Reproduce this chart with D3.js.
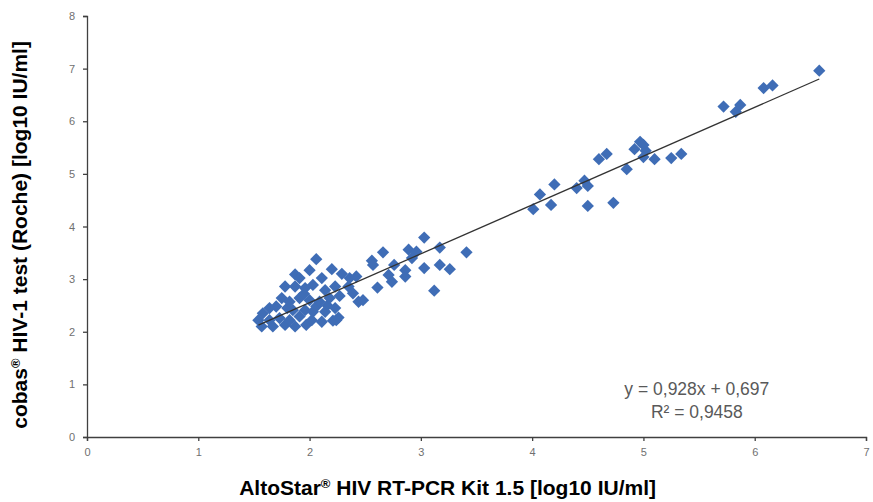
<!DOCTYPE html>
<html>
<head>
<meta charset="utf-8">
<script src="https://cdn.jsdelivr.net/npm/d3@7"></script>
<style>
  body { margin: 0; background: #fff; }
  text { font-family: "Liberation Sans", Arial, sans-serif; }
</style>
</head>
<body>
<div id="chart"></div>
<script>

// AltoStar (x) vs cobas (y), log10 IU/ml
const xVals = [
  1.54, 1.57, 1.58, 1.64, 1.64, 1.67, 1.70, 1.73, 1.75, 1.78,
  1.78, 1.80, 1.82, 1.82, 1.85, 1.87, 1.87, 1.87, 1.91, 1.91,
  1.91, 1.95, 1.96, 1.96, 1.97, 2.00, 2.00, 2.02, 2.03, 2.03,
  2.06, 2.06, 2.09, 2.11, 2.11, 2.14, 2.14, 2.16, 2.18, 2.20,
  2.21, 2.23, 2.23, 2.24, 2.26, 2.27, 2.29, 2.35, 2.36, 2.39,
  2.42, 2.44, 2.48, 2.56, 2.57, 2.61, 2.66, 2.71, 2.74, 2.76,
  2.86, 2.86, 2.89, 2.92, 2.96, 3.03, 3.03, 3.12, 3.17, 3.17,
  3.26, 3.41,
  4.01, 4.07, 4.17, 4.20, 4.40, 4.47, 4.50, 4.50, 4.60, 4.67,
  4.73, 4.85, 4.92, 4.97, 5.00, 5.02, 5.00, 5.10, 5.25, 5.34,
  5.72, 5.83, 5.87, 6.08, 6.16, 6.58
]
const yVals = [
  2.22, 2.10, 2.35, 2.45, 2.22, 2.10, 2.48, 2.26, 2.64, 2.86,
  2.13, 2.45, 2.57, 2.22, 2.41, 3.09, 2.86, 2.10, 3.02, 2.64,
  2.29, 2.72, 2.83, 2.41, 2.13, 3.17, 2.60, 2.22, 2.89, 2.38,
  3.38, 2.48, 2.57, 3.02, 2.19, 2.79, 2.38, 2.50, 2.64, 3.19,
  2.21, 2.86, 2.45, 2.22, 2.27, 2.68, 3.10, 2.86, 3.02, 2.73,
  3.05, 2.57, 2.60, 3.35, 3.27, 2.84, 3.51, 3.08, 2.95, 3.27,
  3.17, 3.05, 3.56, 3.40, 3.52, 3.79, 3.21, 2.78, 3.60, 3.27,
  3.19, 3.51,
  4.33, 4.61, 4.41, 4.80, 4.73, 4.87, 4.77, 4.39, 5.28, 5.38,
  4.45, 5.09, 5.47, 5.61, 5.55, 5.44, 5.32, 5.28, 5.30, 5.38,
  6.28, 6.18, 6.31, 6.63, 6.68, 6.96
]

const slope = 0.928, intercept = 0.697
const eqLines = ["y = 0,928x + 0,697", "R² = 0,9458"]

const xTicks = [0, 1, 2, 3, 4, 5, 6, 7]
const yTicks = [0, 1, 2, 3, 4, 5, 6, 7, 8]

const margin = {top: 16, right: 7, bottom: 65, left: 87},
    width = 873 - margin.left - margin.right,
    height = 502 - margin.top - margin.bottom;

const data = xVals.map((x, i) => ({x: x, y: yVals[i]}))

const svg = d3.select("#chart")
  .append("svg")
    .attr("width", 873)
    .attr("height", 502)
  .append("g")
    .attr("transform", `translate(${margin.left},${margin.top})`);

const x = d3.scaleLinear().domain([0, 7]).range([0, width])
const y = d3.scaleLinear().domain([0, 8]).range([height, 0])

// axes
const xAxis = svg.append("g")
  .attr("transform", `translate(0, ${height})`)
  .call(d3.axisBottom(x).tickValues(xTicks).tickFormat(d3.format("d"))
    .tickSize(4).tickSizeOuter(4).tickPadding(7))
const yAxis = svg.append("g")
  .call(d3.axisLeft(y).tickValues(yTicks).tickFormat(d3.format("d"))
    .tickSize(4).tickSizeOuter(4).tickPadding(8))

for (const ax of [xAxis, yAxis]) {
  ax.select(".domain").attr("stroke", "#404040").attr("stroke-width", 1.3)
  ax.selectAll(".tick line").attr("stroke", "#404040").attr("stroke-width", 1.3)
  ax.selectAll(".tick text")
    .attr("fill", "#707070")
    .style("font-size", "11px")
    .style("font-family", "'Liberation Sans', Arial, sans-serif")
}

// markers
const diamond = d3.symbol().type(d3.symbolDiamond2).size(96)
svg.append("g")
  .selectAll("path")
  .data(data)
  .join("path")
    .attr("d", diamond)
    .attr("transform", d => `translate(${x(d.x)},${y(d.y)})`)
    .attr("fill", "#3f6db6")

// trend line over the markers
const xExt = d3.extent(xVals)
svg.append("line")
  .attr("x1", x(xExt[0]))
  .attr("y1", y(slope * xExt[0] + intercept))
  .attr("x2", x(xExt[1]))
  .attr("y2", y(slope * xExt[1] + intercept))
  .attr("stroke", "#333")
  .attr("stroke-width", 1.3)

// equation
svg.append("g")
  .selectAll("text")
  .data(eqLines)
  .join("text")
    .attr("x", x(5.48))
    .attr("y", (d, i) => y(0.79) + i * 23)
    .attr("text-anchor", "middle")
    .attr("fill", "#595959")
    .style("font-size", "17.5px")
    .text(d => d)

// axis titles
const xTitle = svg.append("text")
  .attr("x", x(3.24))
  .attr("y", height + 58)
  .attr("text-anchor", "middle")
  .style("font-size", "21px")
  .style("font-weight", "bold")
xTitle.append("tspan").text("AltoStar")
xTitle.append("tspan").text("®").style("font-size", "13px").attr("dy", -7)
xTitle.append("tspan").text(" HIV RT-PCR Kit 1.5 [log10 IU/ml]").attr("dy", 7)

const yTitle = svg.append("text")
  .attr("transform", `translate(${-margin.left + 27},${y(3.84)}) rotate(-90)`)
  .attr("text-anchor", "middle")
  .style("font-size", "21px")
  .style("font-weight", "bold")
yTitle.append("tspan").text("cobas")
yTitle.append("tspan").text("®").style("font-size", "13px").attr("dy", -7)
yTitle.append("tspan").text(" HIV-1 test (Roche) [log10 IU/ml]").attr("dy", 7)

</script>
</body>
</html>
